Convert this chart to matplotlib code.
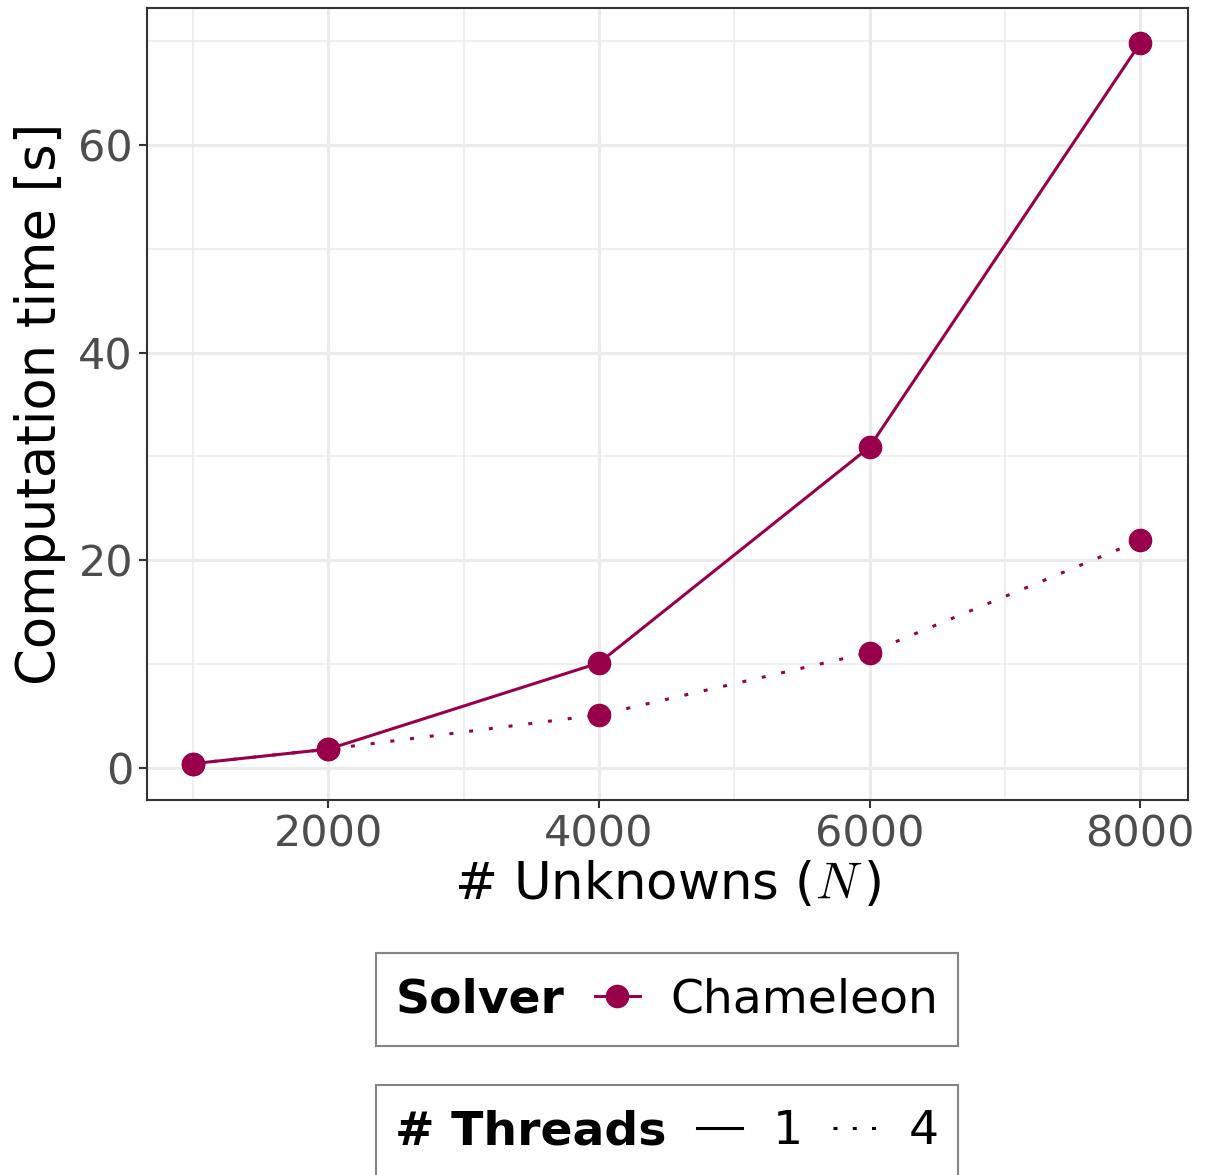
import matplotlib
matplotlib.use("Agg")
import matplotlib.pyplot as plt
from matplotlib.lines import Line2D
from matplotlib.offsetbox import HPacker, DrawingArea
from matplotlib.ticker import MultipleLocator

# data
unknowns = [1000, 2000, 4000, 6000, 8000]
time_1_thread = [0.4, 1.8, 10.1, 30.9, 69.8]
time_4_threads = [0.4, 1.8, 5.1, 11.1, 21.9]
solver_name = "Chameleon"
thread_labels = ["1", "4"]

color = "#99004C"
dots = (0, (1.3, 5.2))

plt.rcParams["font.family"] = "DejaVu Sans"
plt.rcParams["mathtext.fontset"] = "cm"

fig = plt.figure(figsize=(12.05, 11.75), dpi=100)
ax = fig.add_axes([147 / 1205, 1 - 800 / 1175, (1188 - 147) / 1205, (800 - 8) / 1175])

ax.plot(unknowns, time_1_thread, color=color, lw=2.2, marker="o", ms=16, zorder=3)
ax.plot(unknowns, time_4_threads, color=color, lw=2.2, ls=dots, marker="o", ms=16,
        dash_capstyle="butt", zorder=3)

ax.set_xlim(660, 8354)
ax.set_ylim(-3.1, 73.2)
ax.xaxis.set_major_locator(MultipleLocator(2000))
ax.xaxis.set_minor_locator(MultipleLocator(1000))
ax.yaxis.set_major_locator(MultipleLocator(20))
ax.yaxis.set_minor_locator(MultipleLocator(10))
ax.set_xticks([2000, 4000, 6000, 8000])

ax.grid(which="major", color="#EBEBEB", lw=2.2)
ax.grid(which="minor", color="#EBEBEB", lw=1.1)
ax.set_axisbelow(True)
for s in ax.spines.values():
    s.set_color("#333333")
    s.set_linewidth(1.5)
ax.tick_params(which="major", length=6, width=1.5, color="#333333",
               labelsize=31, labelcolor="#4D4D4D", pad=4)
ax.tick_params(which="minor", length=0)

ax.set_xlabel("# Unknowns ($N\\,$)", fontsize=37, labelpad=3)
ax.set_ylabel("Computation time [s]", fontsize=38, labelpad=9)


def side_title(leg):
    # put the legend title to the left of the keys, like ggplot does
    inner = HPacker(children=[leg._legend_title_box, leg._legend_handle_box],
                    align="center", pad=0, sep=22)
    strut = DrawingArea(0, 40)  # makes the box a bit taller
    box = HPacker(children=[strut, inner], align="center", pad=0, sep=0)
    leg._legend_box._children = [box]
    leg.get_title().set_fontweight("bold")
    frame = leg.get_frame()
    frame.set_edgecolor("#666666")
    frame.set_linewidth(1.5)


legend_kw = dict(fontsize=34, title_fontsize=34, fancybox=False, handlelength=0.95,
                 handletextpad=0.66, borderpad=0.4, borderaxespad=0)

solver_handle = Line2D([], [], color=color, lw=2.2, marker="o", ms=16)
leg1 = fig.legend([solver_handle], [solver_name], title="Solver",
                  loc="upper center", bbox_to_anchor=(667 / 1205, 1 - 953 / 1175),
                  **legend_kw)
side_title(leg1)

thread_handles = [Line2D([], [], color="black", lw=2.2),
                  Line2D([], [], color="black", lw=2.2, ls=(0, (1.3, 5)), dash_capstyle="butt")]
leg2 = fig.legend(thread_handles, thread_labels, title="# Threads", ncol=2,
                  loc="upper center", bbox_to_anchor=(667 / 1205, 1 - 1085 / 1175),
                  columnspacing=0.64, **legend_kw)
side_title(leg2)

fig.savefig("out.png", dpi=100)
